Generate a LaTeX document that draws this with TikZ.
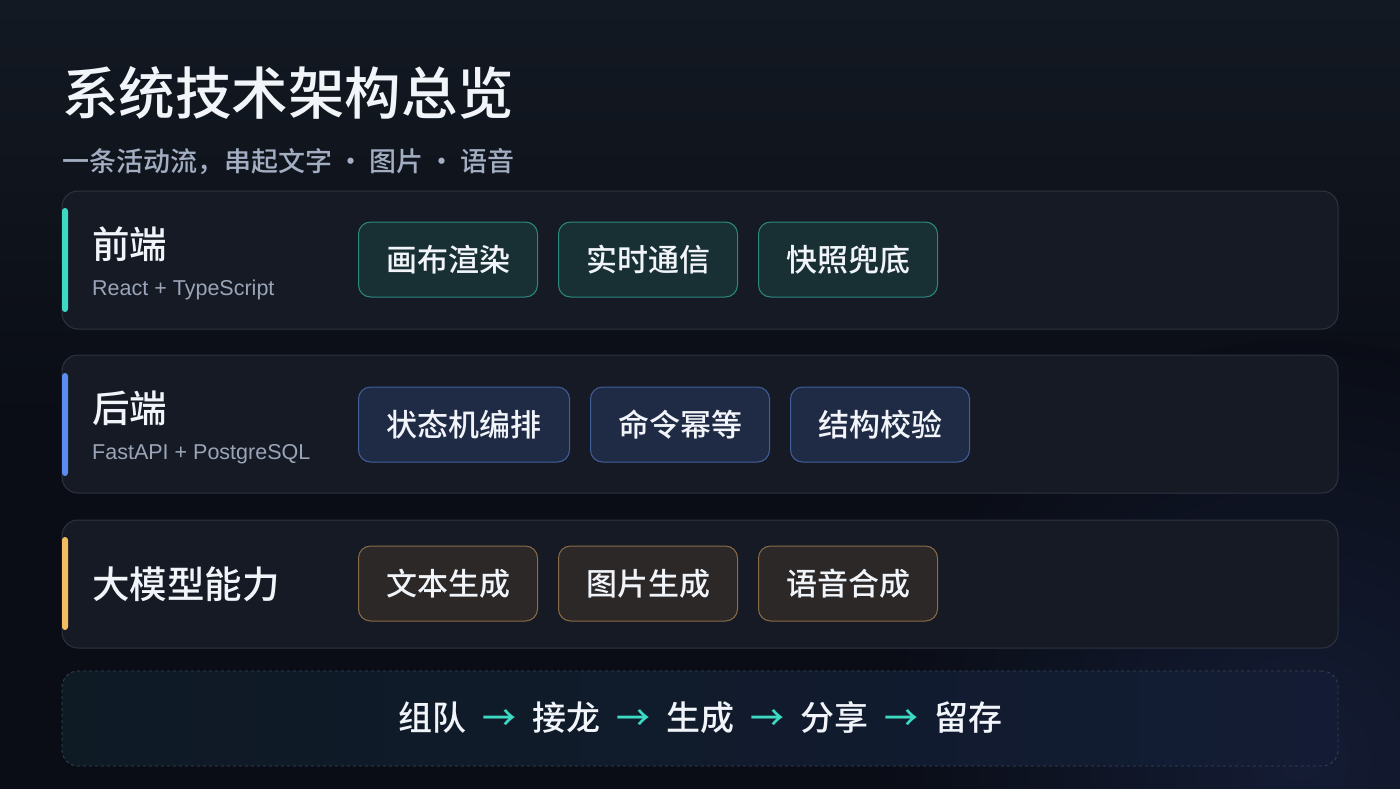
\documentclass[tikz,border=0pt]{standalone}
\usepackage{fontspec}
\setmainfont{Noto Sans CJK SC}
\newfontfamily\medfont{Noto Sans CJK SC Medium}
\newfontfamily\latinfont{Liberation Sans}
\definecolor{bgA}{HTML}{131922}
\definecolor{bgB}{HTML}{0A0D16}
\definecolor{bgC}{HTML}{141C34}
\definecolor{panelfill}{HTML}{161A24}
\definecolor{panelline}{HTML}{2E333F}
\definecolor{titlecol}{HTML}{F1F4F9}
\definecolor{subcol}{HTML}{A3AEC2}
\definecolor{techcol}{HTML}{9AA5B8}
\definecolor{tealacc}{HTML}{3DD9C3}
\definecolor{blueacc}{HTML}{5B8DEF}
\definecolor{goldacc}{HTML}{F2BC62}
\definecolor{tealfill}{HTML}{183034}
\definecolor{tealline}{HTML}{2B8A7E}
\definecolor{bluefill}{HTML}{1F2A45}
\definecolor{blueline}{HTML}{41609C}
\definecolor{goldfill}{HTML}{2C2828}
\definecolor{goldline}{HTML}{8A6B47}
\definecolor{flowL}{HTML}{0E1A24}
\definecolor{flowR}{HTML}{131C34}
\definecolor{flowline}{HTML}{34465A}
\tikzset{
  panel/.style={draw=panelline, fill=panelfill, rounded corners=16pt, line width=1pt,
    minimum width=1276pt, inner sep=0pt},
  chip/.style={rounded corners=12pt, line width=1pt, minimum height=75pt, inner sep=0pt,
    anchor=west, text=titlecol, font=\fontsize{31}{31}\medfont},
  chipfour/.style={chip, minimum width=179pt},
  chipfive/.style={chip, minimum width=211pt},
  tealchip/.style={fill=tealfill, draw=tealline},
  bluechip/.style={fill=bluefill, draw=blueline},
  goldchip/.style={fill=goldfill, draw=goldline},
  heading/.style={anchor=west, inner sep=0pt, text=titlecol, font=\fontsize{37.5}{37.5}\medfont},
  tech/.style={anchor=west, inner sep=0pt, text=techcol, font=\fontsize{21.5}{21.5}\latinfont},
  accent/.style={rounded corners=3pt},
}
\begin{document}
\begin{tikzpicture}[x=1pt,y=-1pt]
\useasboundingbox (0,0) rectangle (1400,788);
% background
\fill[bgB] (-4,-4) rectangle (1404,792);
\shade[top color=bgA, bottom color=bgB] (-4,-4) rectangle (1404,420);
\begin{scope}
\clip (-4,-4) rectangle (1404,792);
\shade[inner color=bgC, outer color=bgB] (1300,760) circle (420);
\end{scope}

% title
\node[anchor=west, inner sep=0pt, text=titlecol, font=\fontsize{56.5}{56.5}\medfont]
  (title) at (62,93) {系统技术架构总览};
\node[anchor=west, inner sep=0pt, text=subcol, font=\fontsize{27}{27}\medfont]
  (subtitle) at (62,162) {一条活动流，串起文字\hspace{5pt}·\hspace{5pt}图片\hspace{5pt}·\hspace{5pt}语音};

% panel 1
\node[panel, minimum height=138pt] (p1) at (700,260) {};
\fill[tealacc, accent] (62,208) rectangle (68,312);
\node[heading] (h1) at (92,244) {前端};
\node[tech] (t1) at (92,290) {React + TypeScript};
\node[chipfour, tealchip] (c11) at (358,259.5) {画布渲染};
\node[chipfour, tealchip] (c12) at (558,259.5) {实时通信};
\node[chipfour, tealchip] (c13) at (758,259.5) {快照兜底};

% panel 2
\node[panel, minimum height=138pt] (p2) at (700,424) {};
\fill[blueacc, accent] (62,373) rectangle (68,476);
\node[heading] (h2) at (92,408) {后端};
\node[tech] (t2) at (92,454) {FastAPI + PostgreSQL};
\node[chipfive, bluechip] (c21) at (358,424.5) {状态机编排};
\node[chipfour, bluechip] (c22) at (590,424.5) {命令幂等};
\node[chipfour, bluechip] (c23) at (790,424.5) {结构校验};

% panel 3
\node[panel, minimum height=128pt] (p3) at (700,584) {};
\fill[goldacc, accent] (62,537) rectangle (68,630);
\node[heading] (h3) at (92,584) {大模型能力};
\node[chipfour, goldchip] (c31) at (358,583.5) {文本生成};
\node[chipfour, goldchip] (c32) at (558,583.5) {图片生成};
\node[chipfour, goldchip] (c33) at (758,583.5) {语音合成};

% flow bar
\node[draw=flowline, dashed, left color=flowL, right color=flowR,
  rounded corners=16pt, line width=0.8pt, minimum width=1276pt, minimum height=95pt,
  inner sep=0pt] (flow) at (700,718.5) {};
\node[inner sep=0pt, text=titlecol, font=\fontsize{34}{34}\medfont] (flowtext) at (700,718)
  {组队\hspace{16pt}{\color{tealacc}→}\hspace{16pt}接龙\hspace{16pt}{\color{tealacc}→}\hspace{16pt}生成\hspace{16pt}{\color{tealacc}→}\hspace{16pt}分享\hspace{16pt}{\color{tealacc}→}\hspace{16pt}留存};
\end{tikzpicture}
\end{document}
